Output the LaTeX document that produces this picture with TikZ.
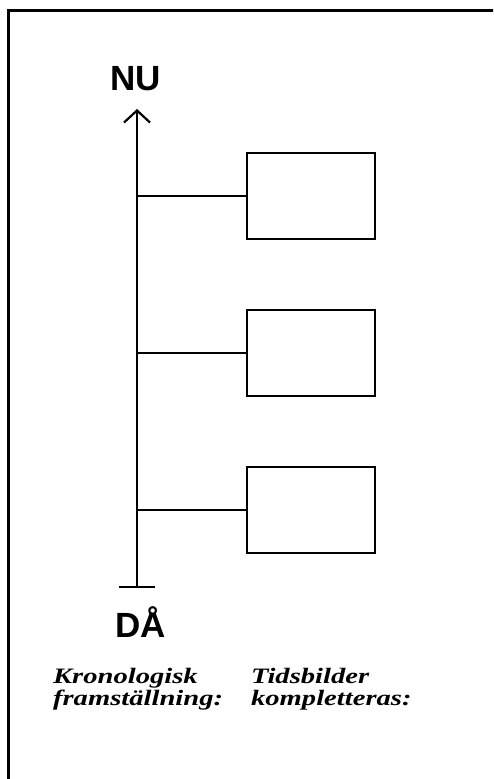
\documentclass[tikz,border=0pt]{standalone}
\usepackage{fontspec}
\setmainfont{Liberation Serif}
\newfontfamily\endfont{Liberation Sans}
\newfontfamily\capfont[FakeStretch=1.3]{Liberation Serif}
\usetikzlibrary{arrows.meta}
\begin{document}
\begin{tikzpicture}[x=1pt,y=-1pt,line width=2.2pt,
  tidbox/.style={draw,line width=2.5pt,minimum width=128pt,minimum height=86pt,inner sep=0pt},
  endlabel/.style={font=\endfont\bfseries\fontsize{35}{35}\selectfont,inner sep=0pt,anchor=base},
  caption/.style={font=\capfont\bfseries\itshape\fontsize{22}{22}\selectfont,align=left,anchor=base west,inner sep=0pt}]
\useasboundingbox (0,0) rectangle (493,779);
\clip (0,0) rectangle (493,779);
\draw[line width=3pt] (8,10) rectangle (520,800);

% time axis
\coordinate (dabar) at (137,588);
\coordinate (nutip) at (137,109);
\draw[{Bar[width=36pt]}-{Straight Barb[length=12pt,width=26pt]}] (dabar) -- (nutip);
\node[endlabel] (nu) at (136,90) {NU};
\node[endlabel] (da) at (141,637) {DÅ};

% tidsbilder
\node[tidbox] (box1) at (311,196) {};
\node[tidbox] (box2) at (311,353) {};
\node[tidbox] (box3) at (311,510) {};
\draw (box1.west -| nutip) -- (box1.west);
\draw (box2.west -| nutip) -- (box2.west);
\draw (box3.west -| nutip) -- (box3.west);

\node[caption] (kron1) at (52,683) {Kronologisk};
\node[caption] (kron2) at (52,705) {framställning:};
\node[caption] (tids1) at (250,683) {Tidsbilder};
\node[caption] (tids2) at (250,705) {kompletteras:};
\end{tikzpicture}
\end{document}
